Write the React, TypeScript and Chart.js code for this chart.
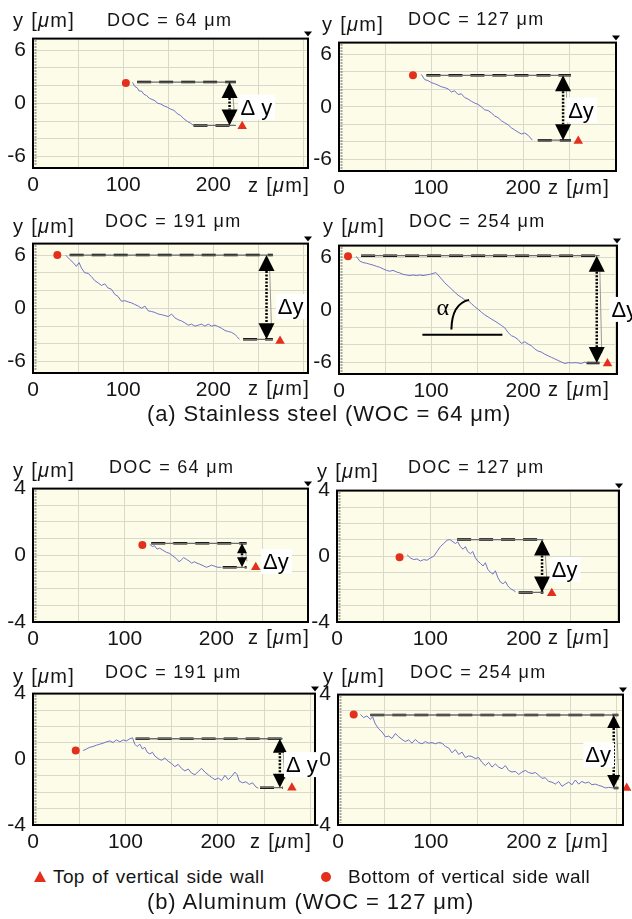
import React, { useEffect, useRef } from 'react';
import { Chart, registerables } from 'chart.js';

Chart.register(...registerables);

// ---------------- DATA ----------------
const docLabels = ['DOC = 64 μm', 'DOC = 127 μm', 'DOC = 191 μm', 'DOC = 254 μm', 'DOC = 64 μm', 'DOC = 127 μm', 'DOC = 191 μm', 'DOC = 254 μm'];

const zTickValues = [0, 50, 100, 150, 200, 250, 300];
const zTickLabels = [0, 100, 200];
const ssYGrid = [-6, -4, -2, 0, 2, 4, 6];
const ssYLabels = [-6, 0, 6];
const alYGrid = [-4, -3, -2, -1, 0, 1, 2, 3, 4];
const alYLabels = [-4, 0, 4];
const ssYLimit = 7.3;
const alYLimit = 4;
const zMax = [305, 301, 305, 302, 300, 302, 305, 307];

// Stainless steel profiles
const ss64Z = [110.4, 113, 115.6, 117.8, 120.4, 123, 126, 128.9, 131.9, 135.2, 138.5, 141.5, 145.2, 148.9, 152.6, 156.3, 160, 163.7, 167.4, 171.1, 174.8, 177.8];
const ss64Y = [2.36, 1.89, 1.75, 1.38, 1.38, 1.02, 0.87, 0.58, 0.44, 0.29, 0, -0.07, -0.29, -0.44, -0.65, -0.8, -1.16, -1.38, -1.75, -2.04, -2.25, -2.47];

const ss127Z = [89.5, 93.1, 96.7, 100.4, 104, 107.6, 111.2, 114.9, 118.5, 122.1, 125.7, 129.3, 133, 136.6, 140.2, 143.8, 147.5, 151.1, 154.7, 158.3, 162, 165.6, 169.2, 172.8, 176.4, 180.1, 183.7, 187.3, 190.9, 194.6, 198.2, 201.8, 205.4, 210.1];
const ss127Y = [3.68, 3.09, 2.98, 2.74, 2.63, 2.46, 2.28, 2.18, 2.04, 1.68, 1.82, 1.4, 1.47, 1.05, 0.88, 0.63, 0.42, 0.28, 0, -0.35, -0.42, -0.7, -1.05, -1.23, -1.58, -1.82, -2.04, -2.39, -2.63, -2.88, -3.09, -2.98, -3.23, -3.79];

const ss191Z = [36.3, 40.7, 45.2, 48.1, 51.1, 53.7, 57.4, 61.1, 64.8, 68.5, 72.2, 75.9, 79.6, 83.3, 87, 90.7, 94.4, 98.1, 101.9, 105.6, 109.3, 113, 116.7, 120.4, 124.1, 127.8, 131.5, 135.2, 138.9, 142.6, 146.3, 150, 153.7, 157.4, 161.1, 164.8, 168.5, 172.2, 175.9, 179.6, 183.3, 187, 190.7, 194.4, 198.1, 201.9, 205.6, 209.3, 213, 216.7, 220.4, 224.1, 226.7, 228.9];
const ss191Y = [5.99, 5.52, 5.09, 4.73, 5.16, 4.55, 4.01, 3.94, 3.58, 3.12, 2.87, 2.58, 2.76, 2.29, 2.15, 1.58, 1.33, 0.79, 0.86, 0.72, 0.61, 0.43, 0.25, 0, 0.25, -0.29, -0.36, -0.47, -0.65, -0.72, -0.82, -0.93, -0.65, -1.08, -1.29, -1.43, -1.65, -1.9, -1.79, -2.01, -1.9, -1.79, -2.01, -1.79, -2.01, -1.9, -2.08, -2.26, -2.51, -2.62, -2.72, -2.97, -3.23, -3.51];

const ss254Z = [18.8, 22.5, 26.1, 29.7, 33.3, 37, 40.6, 44.2, 47.8, 51.4, 55.1, 58.7, 62.3, 65.9, 69.6, 73.2, 76.8, 80.4, 84, 87.7, 91.3, 94.9, 98.6, 102.2, 105.1, 107.6, 111.2, 114.9, 118.5, 122.1, 125.7, 129.3, 133, 136.6, 140.2, 143.8, 147.5, 151.1, 154.7, 158.3, 162, 165.6, 169.2, 172.8, 176.4, 180.1, 183.7, 187.3, 190.9, 194.6, 198.2, 201.8, 205.4, 209.1, 212.7, 216.3, 219.9, 223.6, 227.2, 230.8, 234.4, 238, 241.7, 245.3, 248.9, 252.5, 256.2, 259.8, 263.4, 267, 268.8];
const ss254Y = [6.08, 5.55, 5.37, 5.3, 5.19, 5.09, 4.95, 4.84, 4.66, 4.49, 4.38, 4.49, 4.31, 4.2, 4.03, 3.96, 3.89, 3.96, 3.89, 3.96, 3.89, 3.96, 4.03, 4.13, 4.24, 3.96, 3.53, 3.07, 2.72, 2.37, 2.01, 1.66, 1.41, 1.13, 1.06, 0.71, 0.35, 0.07, -0.28, -0.57, -0.81, -1.06, -1.27, -1.52, -1.77, -2.05, -2.58, -2.94, -3.11, -3.39, -3.82, -3.64, -3.89, -4.1, -4.45, -4.7, -4.81, -5.05, -5.23, -5.41, -5.58, -5.76, -5.94, -6.11, -6.01, -6.04, -6.01, -6.04, -6.11, -5.94, -6.04];

// Aluminum profiles
const al64Z = [127.3, 130.2, 132.7, 135.3, 138.2, 141.8, 145.5, 149.1, 152.7, 156.4, 159.3, 161.8, 164.4, 167.3, 170.2, 173.1, 176, 178.9, 181.8, 185.5, 189.1, 192, 194.9, 198.2, 201.8, 205.5];
const al64Y = [0.66, 0.53, 0.57, 0.37, 0.43, 0.3, 0.18, 0.11, -0.05, -0.2, -0.39, -0.28, -0.14, -0.24, -0.34, -0.47, -0.39, -0.47, -0.53, -0.62, -0.72, -0.66, -0.59, -0.66, -0.72, -0.72];

const al127Z = [75, 78.6, 82.1, 85.7, 89.3, 92.9, 96.4, 100, 103.6, 107.1, 110.7, 114.3, 117.9, 120.7, 124.3, 126.8, 129.3, 132.1, 135, 137.5, 140, 142.9, 145.4, 148.2, 150.7, 153.6, 156.4, 158.9, 161.4, 164.3, 167.1, 169.6, 172.1, 175, 177.9, 180.4, 182.9, 185.7, 188.6, 191.1];
const al127Y = [0.1, -0.1, -0.2, -0.16, -0.29, -0.2, -0.24, -0.1, 0, 0.29, 0.59, 0.78, 0.98, 1.02, 0.88, 0.78, 0.88, 0.59, 0.43, 0.59, 0.29, 0.16, 0.29, -0.1, -0.29, -0.43, -0.59, -0.39, -0.78, -0.98, -1.08, -0.88, -1.27, -1.57, -1.67, -1.53, -1.8, -1.96, -2.06, -2.16];

const al191Z = [54.2, 57.8, 61.4, 65, 68.6, 72.2, 75.8, 79.4, 83, 86.6, 90.3, 93.9, 97.5, 101.1, 104.7, 107.6, 110.1, 112.6, 115.5, 118.4, 120.9, 123.5, 126.4, 129.2, 131.8, 135.4, 139, 142.6, 146.2, 149.8, 153.4, 157, 160.6, 164.3, 167.9, 171.5, 175.1, 178.7, 182.3, 185.9, 189.5, 193.1, 196.8, 200.4, 204, 207.6, 211.2, 214.8, 218.4, 220.9, 223.1, 226.7, 230.3, 233.9, 237.5, 241.2, 243.7];
const al191Y = [0.53, 0.63, 0.73, 0.78, 0.86, 0.92, 0.98, 1.06, 1.12, 1.02, 1.18, 1.06, 1.18, 1.12, 1.25, 1.31, 0.92, 0.78, 0.92, 0.63, 0.73, 0.43, 0.33, 0.43, 0.2, 0.04, -0.06, 0.08, -0.12, -0.25, -0.45, -0.31, -0.55, -0.71, -0.59, -0.84, -0.94, -0.75, -0.55, -0.78, -0.94, -1.1, -1.24, -1.14, -1.29, -0.98, -1.24, -1.04, -0.78, -0.94, -1.33, -1.43, -1.37, -1.53, -1.43, -1.69, -1.76];

const al254Z = [24.1, 27.6, 31.2, 34.8, 37.3, 40.2, 43.8, 47.4, 51, 54.6, 58.2, 61.8, 65.4, 68.9, 72.5, 76.1, 79.7, 83.3, 86.9, 90.5, 94.1, 97.7, 101.3, 104.8, 108.4, 112, 115.6, 119.2, 122.8, 126.4, 130, 133.6, 137.2, 140.8, 144.3, 147.9, 151.5, 155.1, 158.7, 162.3, 165.9, 169.5, 173.1, 176.7, 180.3, 183.8, 187.4, 191, 194.6, 198.2, 201.8, 205.4, 209, 212.6, 216.2, 219.7, 223.3, 226.9, 230.5, 234.1, 237.7, 241.3, 244.9, 248.5, 252.1, 255.7, 259.2, 262.8, 266.4, 270, 273.6, 277.2, 280.8, 284.4, 288, 291.6, 297];
const al254Y = [2.78, 2.59, 2.69, 2.49, 2.63, 2.2, 1.9, 1.71, 1.41, 1.45, 1.31, 1.61, 1.41, 1.25, 1.12, 1.22, 1.02, 1.25, 1.06, 0.98, 1.12, 1.02, 1.06, 0.98, 1.06, 1.02, 0.82, 0.73, 0.43, 0.63, 0.33, 0.47, 0.14, 0.24, 0.2, 0.08, 0.14, -0.16, -0.35, -0.16, -0.45, -0.25, -0.45, -0.55, -0.35, -0.65, -0.75, -0.71, -0.9, -0.75, -0.65, -0.78, -0.84, -0.78, -0.94, -1.14, -1.1, -1.33, -1.37, -1.49, -1.33, -1.63, -1.49, -1.37, -1.53, -1.24, -1.49, -1.33, -1.43, -1.37, -1.53, -1.49, -1.57, -1.63, -1.73, -1.69, -1.73];

// Wall markers (bottom = circle, top = triangle)
const bottomWallZ = [103, 80.4, 27, 9.8, 119.3, 67, 46.2, 16.9];
const bottomWallY = [2.3, 3.58, 6.0, 6.08, 0.62, -0.06, 0.53, 2.78];
const topWallZ = [232, 260, 274, 291.7, 243, 230, 280, 311];
const topWallY = [-2.6, -3.9, -3.7, -6.1, -0.72, -2.25, -1.73, -1.73];

// Reference lines for Δy
const upperLineStartZ = [115.5, 95, 40.7, 24, 129, 128.6, 111, 34.8];
const lowerLineStartZ = [178, 216, 233, 269, 207, 194.6, 245.5, 297];
const lineEndZ = [225, 252, 266, 283, 233, 221, 270, 302];
const upperLineY = [2.4, 3.58, 6.0, 6.15, 0.72, 1.02, 1.25, 2.75];
const lowerLineY = [-2.5, -3.8, -3.5, -6.04, -0.72, -2.2, -1.73, -1.73];
const arrowZ = [218, 243.5, 259, 280, 228, 219.6, 267, 297];
const dyLabelZ = [230, 249, 271.5, 296, 251, 230, 273.6, 266.4];
const dyLabelY = [-1.27, -1.23, -0.65, -0.81, -0.82, -1.27, -0.78, -0.16];
const dyText = ['Δ y', 'Δy', 'Δy', 'Δy', 'Δy', 'Δy', 'Δ y', 'Δy'];

// Slope angle annotation (stainless, DOC = 254 μm)
const alphaBaseZ = [90.6, 177.5];
const alphaBaseY = [-2.83, -2.83];
const alphaArcZ = [122.1, 122.6, 141.3];
const alphaArcY = [-2.23, 0.7, 1.13];
const alphaTextZ = 105.8;
const alphaTextY = -0.64;

const profileZ = [ss64Z, ss127Z, ss191Z, ss254Z, al64Z, al127Z, al191Z, al254Z];
const profileY = [ss64Y, ss127Y, ss191Y, ss254Y, al64Y, al127Y, al191Y, al254Y];

// ---------------- LAYOUT / STYLE ----------------
const FONT = "'Liberation Sans', Arial, Helvetica, sans-serif";
const RED = '#e3301c';
const BLUE = '#7074c9';
const BG = '#fcfce8';
const GRID = '#d8d8cc';
const INK = '#151515';

const BOX = [
  { l: 33, t: 33, r: 308, b: 168 },
  { l: 339, t: 37, r: 616, b: 171 },
  { l: 33, t: 238, r: 308, b: 373 },
  { l: 339, t: 240, r: 617, b: 374 },
  { l: 33, t: 483, r: 308, b: 622 },
  { l: 337, t: 485, r: 619, b: 622 },
  { l: 33, t: 688, r: 315, b: 825 },
  { l: 338, t: 689, r: 623, b: 825 },
];
const ARROW_SIZE = [16, 16, 16, 16, 10, 16, 14, 13];
const Y_LABEL_POS = [[13, 27], [322, 31], [13, 233], [323, 233], [13, 477], [317, 478], [13, 683], [323, 683]];
const DOC_POS = [[107, 26], [408, 25], [105, 227], [409, 227], [109, 473], [408, 473], [105, 678], [410, 678]];
const Z_POS = [[248, 192], [548, 194], [248, 395], [548, 396], [248, 644], [548, 644], [250, 848], [547, 848]];

function decorPlugin(i: number) {
  return {
    id: 'decor' + i,
    beforeDraw(chart: any) {
      const { ctx, chartArea: a } = chart;
      ctx.save();
      ctx.fillStyle = BG;
      ctx.fillRect(a.left, a.top, a.right - a.left, a.bottom - a.top);
      ctx.restore();
    },
    afterDatasetsDraw(chart: any) {
      const { ctx, chartArea: a } = chart;
      const xs = chart.scales.x;
      const ys = chart.scales.y;
      ctx.save();
      // frame
      ctx.strokeStyle = '#000';
      ctx.lineWidth = 2;
      ctx.strokeRect(a.left, a.top, a.right - a.left, a.bottom - a.top);
      // ruler texture along the left edge
      ctx.strokeStyle = '#555';
      ctx.lineWidth = 2;
      ctx.setLineDash([1, 2]);
      ctx.beginPath();
      ctx.moveTo(a.left + 2.5, a.top + 2);
      ctx.lineTo(a.left + 2.5, a.bottom - 2);
      ctx.stroke();
      ctx.setLineDash([]);
      // small marker at top-right corner
      ctx.fillStyle = '#000';
      ctx.beginPath();
      ctx.moveTo(a.right - 4, a.top - 7);
      ctx.lineTo(a.right + 4, a.top - 7);
      ctx.lineTo(a.right, a.top - 2);
      ctx.closePath();
      ctx.fill();

      // Δy arrow
      const px = xs.getPixelForValue(arrowZ[i]);
      const pt = ys.getPixelForValue(upperLineY[i]);
      const pb = ys.getPixelForValue(lowerLineY[i]);
      const s = ARROW_SIZE[i];
      const hw = s / 2;
      const hh = s;
      ctx.strokeStyle = '#9a9a9a';
      ctx.lineWidth = 1;
      ctx.beginPath();
      ctx.moveTo(px + 3, pt + hh * 0.6);
      ctx.lineTo(px + 5, pb - hh * 0.6);
      ctx.stroke();
      ctx.strokeStyle = '#000';
      ctx.lineWidth = 2.5;
      ctx.setLineDash([2, 1.5]);
      ctx.beginPath();
      ctx.moveTo(px, pt + hh);
      ctx.lineTo(px, pb - hh);
      ctx.stroke();
      ctx.setLineDash([]);
      ctx.fillStyle = '#000';
      ctx.beginPath();
      ctx.moveTo(px, pt);
      ctx.lineTo(px - hw, pt + hh);
      ctx.lineTo(px + hw, pt + hh);
      ctx.closePath();
      ctx.fill();
      ctx.beginPath();
      ctx.moveTo(px, pb);
      ctx.lineTo(px - hw, pb - hh);
      ctx.lineTo(px + hw, pb - hh);
      ctx.closePath();
      ctx.fill();

      // Δy label
      ctx.font = `22px ${FONT}`;
      ctx.textBaseline = 'alphabetic';
      const tx = xs.getPixelForValue(dyLabelZ[i]);
      const ty = ys.getPixelForValue(dyLabelY[i]);
      const tw = ctx.measureText(dyText[i]).width;
      ctx.fillStyle = '#fff';
      ctx.fillRect(tx - 2, ty - 20, tw + 5, 25);
      ctx.fillStyle = '#000';
      ctx.fillText(dyText[i], tx, ty);

      // α annotation
      if (i === 3) {
        ctx.strokeStyle = '#000';
        ctx.lineWidth = 2;
        ctx.beginPath();
        ctx.moveTo(xs.getPixelForValue(alphaArcZ[0]), ys.getPixelForValue(alphaArcY[0]));
        ctx.quadraticCurveTo(
          xs.getPixelForValue(alphaArcZ[1]), ys.getPixelForValue(alphaArcY[1]),
          xs.getPixelForValue(alphaArcZ[2]), ys.getPixelForValue(alphaArcY[2])
        );
        ctx.stroke();
        ctx.font = `24px 'Liberation Serif', 'DejaVu Serif', serif`;
        ctx.fillStyle = '#000';
        ctx.fillText('α', xs.getPixelForValue(alphaTextZ), ys.getPixelForValue(alphaTextY));
      }
      ctx.restore();
    },
  };
}

function buildConfig(i: number, padL: number, padT: number, padR: number, padB: number): any {
  const ss = i < 4;
  const yLim = ss ? ssYLimit : alYLimit;
  const yGrid = ss ? ssYGrid : alYGrid;
  const yLabels = ss ? ssYLabels : alYLabels;
  const pts = (zs: number[], ysArr: number[]) => zs.map((z, k) => ({ x: z, y: ysArr[k] }));
  const hline = (z0: number, z1: number, y: number) => [{ x: z0, y }, { x: z1, y }];

  const datasets: any[] = [
    { data: pts(profileZ[i], profileY[i]), showLine: true, borderColor: BLUE, borderWidth: 1, pointRadius: 0 },
    { data: hline(upperLineStartZ[i], lineEndZ[i], upperLineY[i]), showLine: true, borderColor: '#6e6e6e', borderWidth: 1.3, pointRadius: 0 },
    { data: hline(upperLineStartZ[i], lineEndZ[i], upperLineY[i]), showLine: true, borderColor: '#000', borderWidth: 2.5, borderDash: [14, 8], pointRadius: 0 },
    { data: hline(lowerLineStartZ[i], lineEndZ[i], lowerLineY[i]), showLine: true, borderColor: '#6e6e6e', borderWidth: 1.3, pointRadius: 0 },
    { data: hline(lowerLineStartZ[i], lineEndZ[i], lowerLineY[i]), showLine: true, borderColor: '#000', borderWidth: 2.5, borderDash: [14, 8], pointRadius: 0 },
    { data: [{ x: bottomWallZ[i], y: bottomWallY[i] }], pointStyle: 'circle', pointRadius: 4, backgroundColor: RED, borderColor: RED, borderWidth: 0, clip: false },
    { data: [{ x: topWallZ[i], y: topWallY[i] }], pointStyle: 'triangle', pointRadius: 5.5, backgroundColor: RED, borderColor: RED, borderWidth: 0, clip: false },
  ];
  if (i === 3) {
    datasets.push({ data: pts(alphaBaseZ, alphaBaseY), showLine: true, borderColor: '#000', borderWidth: 2, pointRadius: 0 });
  }

  return {
    type: 'scatter',
    data: { datasets },
    options: {
      responsive: false,
      animation: false,
      events: [],
      layout: { padding: { left: 0, top: padT, right: padR, bottom: 0 } },
      plugins: { legend: { display: false }, tooltip: { enabled: false }, title: { display: false } },
      scales: {
        x: {
          type: 'linear',
          min: 0,
          max: zMax[i],
          afterFit: (sc: any) => { sc.height = padB; },
          afterBuildTicks: (sc: any) => { sc.ticks = zTickValues.map((v) => ({ value: v })); },
          grid: { color: GRID, lineWidth: 1, drawTicks: false },
          border: { display: false },
          ticks: {
            font: { family: FONT, size: 21 },
            color: INK,
            padding: 5,
            maxRotation: 0,
            autoSkip: false,
            callback: (v: number) => (zTickLabels.includes(v) ? String(v) : ''),
          },
        },
        y: {
          type: 'linear',
          min: -yLim,
          max: yLim,
          afterFit: (sc: any) => { sc.width = padL; },
          afterBuildTicks: (sc: any) => { sc.ticks = yGrid.map((v) => ({ value: v })); },
          grid: { color: GRID, lineWidth: 1, drawTicks: false },
          border: { display: false },
          ticks: {
            font: { family: FONT, size: 21 },
            color: INK,
            padding: 7,
            autoSkip: false,
            callback: (v: number) => (yLabels.includes(v) ? String(v) : ''),
          },
        },
      },
    },
    plugins: [decorPlugin(i)],
  };
}

function Panel({ i }: { i: number }) {
  const ref = useRef<HTMLCanvasElement>(null);
  const box = BOX[i];
  const rightCol = i % 2 === 1;
  const cl = rightCol ? box.l - 36 : 0;
  const ct = box.t - 14;
  const cr = rightCol ? 632 : box.r + 22;
  const cb = box.b + 32;
  const w = cr - cl;
  const h = cb - ct;
  useEffect(() => {
    const chart = new Chart(ref.current as HTMLCanvasElement, buildConfig(i, box.l - cl, box.t - ct, cr - box.r, cb - box.b));
    return () => chart.destroy();
  }, [i]);
  return (
    <canvas
      ref={ref}
      width={w}
      height={h}
      style={{ position: 'absolute', left: cl, top: ct, width: w, height: h }}
    />
  );
}

function Txt({ x, base, size, ls = 0, ws = 0, children }: any) {
  return (
    <div
      style={{
        position: 'absolute',
        left: x,
        top: base - 0.8465 * size,
        fontSize: size,
        lineHeight: `${size}px`,
        fontFamily: FONT,
        letterSpacing: ls,
        wordSpacing: ws,
        whiteSpace: 'pre',
        color: INK,
      }}
    >
      {children}
    </div>
  );
}

export default function App() {
  const idx = [0, 1, 2, 3, 4, 5, 6, 7];
  return (
    <div style={{ position: 'absolute', left: 0, top: 0, width: 632, height: 919, background: '#fff', overflow: 'hidden' }}>
      {idx.map((i) => <Panel key={'p' + i} i={i} />)}
      {idx.map((i) => (
        <React.Fragment key={'t' + i}>
          <Txt x={Y_LABEL_POS[i][0]} base={Y_LABEL_POS[i][1]} size={20} ls={1.3}>
            y [<i>μ</i>m]
          </Txt>
          <Txt x={DOC_POS[i][0]} base={DOC_POS[i][1]} size={18} ls={1.3}>
            {docLabels[i]}
          </Txt>
          <Txt x={Z_POS[i][0]} base={Z_POS[i][1]} size={20} ls={1.3}>
            z [<i>μ</i>m]
          </Txt>
        </React.Fragment>
      ))}
      <Txt x={147} base={422} size={22} ls={0.85}>(a) Stainless steel (WOC = 64 μm)</Txt>
      <svg style={{ position: 'absolute', left: 34, top: 871 }} width={12} height={11}>
        <polygon points="6,0 12,11 0,11" fill={RED} />
      </svg>
      <Txt x={53} base={883} size={19} ls={0.4} ws={1.5}>Top of vertical side wall</Txt>
      <div style={{ position: 'absolute', left: 321, top: 872, width: 10, height: 10, borderRadius: '50%', background: RED }} />
      <Txt x={348} base={883} size={19} ls={0.4} ws={1.5}>Bottom of vertical side wall</Txt>
      <Txt x={147} base={910} size={22} ls={0.9}>(b) Aluminum (WOC = 127 μm)</Txt>
    </div>
  );
}
